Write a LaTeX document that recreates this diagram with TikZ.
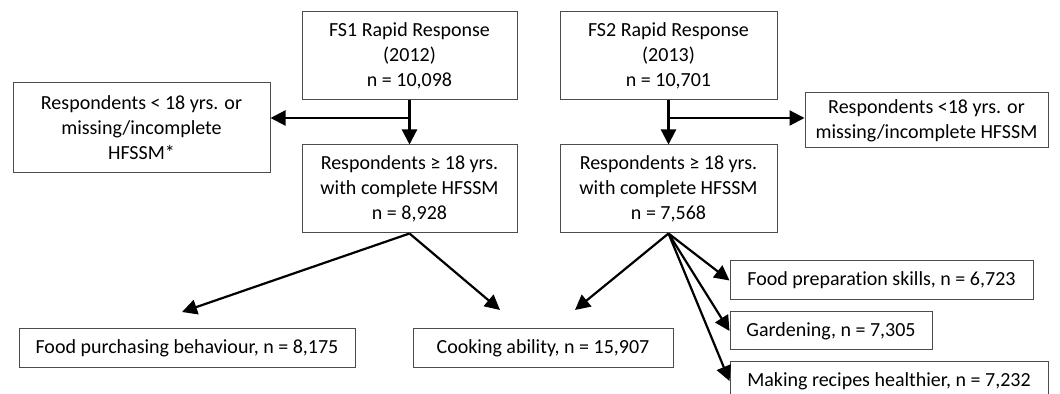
\documentclass[tikz,border=0pt]{standalone}
\usepackage{fontspec}
\setmainfont{Carlito}[Ligatures=NoCommon]
\usetikzlibrary{arrows.meta}
\begin{document}
\begin{tikzpicture}[x=0.5pt, y=-0.5pt,
    box/.style={draw=black!70, line width=0.5pt, align=center, inner sep=0pt,
        font=\fontsize{10}{12.5}\selectfont},
    flow/.style={line width=1.1pt, -{Triangle[length=7.5pt,width=7.5pt]}}]
    \useasboundingbox (0,0) rectangle (1060,394);
    % survey boxes
    \node[box, minimum width=107.5pt, minimum height=44pt] (fsone) at (409.5,56) {FS1 Rapid Response\\(2012)\\n = 10,098};
    \node[box, minimum width=108.5pt, minimum height=44pt] (fstwo) at (668.5,56) {FS2 Rapid Response\\(2013)\\n = 10,701};
    % excluded
    \node[box, minimum width=128.5pt, minimum height=45pt] (exclone) at (141.5,128) {Respondents < 18 yrs. or\\missing/incomplete\\HFSSM*};
    \node[box, minimum width=121.5pt, minimum height=27.5pt] (excltwo) at (926.5,120.5) {Respondents <18 yrs. or\\missing/incomplete HFSSM};
    % adults
    \node[box, minimum width=107.5pt, minimum height=44pt] (adultone) at (409.5,189) {Respondents ≥ 18 yrs.\\with complete HFSSM\\n = 8,928};
    \node[box, minimum width=108.5pt, minimum height=44pt] (adulttwo) at (668.5,189) {Respondents ≥ 18 yrs.\\with complete HFSSM\\n = 7,568};
    % outcomes
    \node[box, minimum width=168pt, minimum height=19.5pt] (purchase) at (187,348.5) {Food purchasing behaviour, n = 8,175};
    \node[box, minimum width=130pt, minimum height=19.5pt] (cooking) at (543,348.5) {Cooking ability, n = 15,907};
    \node[box, minimum width=151.5pt, minimum height=19.5pt] (prep) at (881.5,280.5) {Food preparation skills, n = 6,723};
    \node[box, minimum width=101pt, minimum height=19pt] (garden) at (831,331) {Gardening, n = 7,305};
    \node[box, minimum width=159pt, minimum height=19pt] (recipes) at (889,381) {Making recipes healthier, n = 7,232};
    % split points and free arrow ends
    \coordinate (splitone) at (fsone.south |- 0,118);
    \coordinate (splittwo) at (fstwo.south |- 0,118);
    \coordinate (purchasetip) at (182,312);
    \coordinate (cookonetip) at (500,310);
    \coordinate (cooktwotip) at (575,310);
    % arrows
    \draw[flow] (fsone.south) -- (adultone.north);
    \draw[flow] (splitone) -- (splitone -| exclone.east);
    \draw[flow] (fstwo.south) -- (adulttwo.north);
    \draw[flow] (splittwo) -- (splittwo -| excltwo.west);
    \draw[flow] (adultone.south) -- (purchasetip);
    \draw[flow] (adultone.south) -- (cookonetip);
    \draw[flow] (adulttwo.south) -- (cooktwotip);
    \draw[flow] (adulttwo.south) -- (prep.west);
    \draw[flow] (adulttwo.south) -- (garden.west);
    \draw[flow] (adulttwo.south) -- (recipes.west);
\end{tikzpicture}
\end{document}
